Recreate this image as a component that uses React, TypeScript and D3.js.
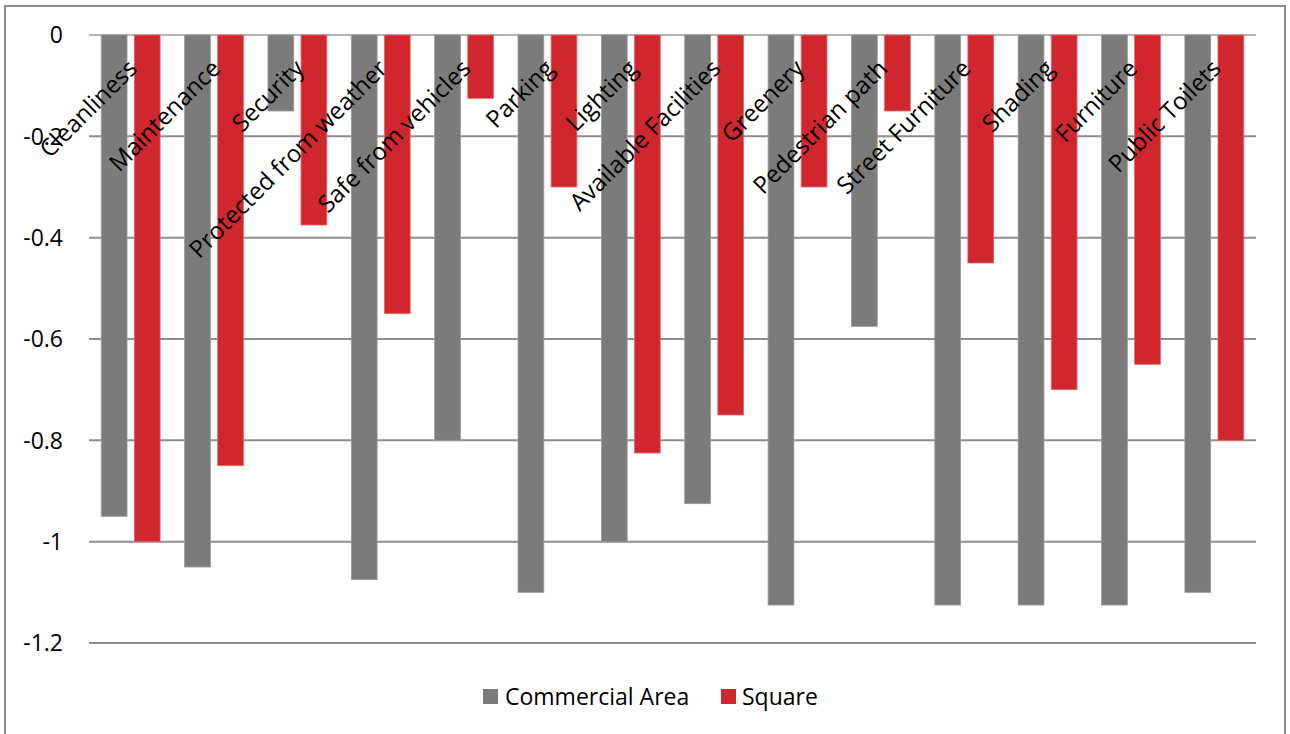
import React from "react";
import * as d3 from "d3";

const categories = [
  "Cleanliness",
  "Maintenance",
  "Security",
  "Protected from weather",
  "Safe from vehicles",
  "Parking",
  "Lighting",
  "Available Facilities",
  "Greenery",
  "Pedestrian path",
  "Street Furniture",
  "Shading",
  "Furniture",
  "Public Toilets",
];

const commercialArea = [
  -0.95, -1.05, -0.15, -1.075, -0.8, -1.1, -1.0, -0.925, -1.125, -0.575, -1.125, -1.125, -1.125, -1.1,
];

const square = [
  -1.0, -0.85, -0.375, -0.55, -0.125, -0.3, -0.825, -0.75, -0.3, -0.15, -0.45, -0.7, -0.65, -0.8,
];

const seriesNames = ["Commercial Area", "Square"];
const seriesColors = ["#7b7b7b", "#d0262d"];
const yTicks = [0, -0.2, -0.4, -0.6, -0.8, -1, -1.2];

const W = 1290;
const H = 734;
const plot = { left: 89, right: 1256, top: 35, bottom: 643 };
const FONT = "'Open Sans', 'DejaVu Sans', sans-serif";

export default function App() {
  const x = d3
    .scaleBand<string>()
    .domain(categories)
    .range([plot.left, plot.right])
    .paddingInner(0)
    .paddingOuter(0);

  const inner = d3
    .scaleBand<number>()
    .domain([0, 1])
    .range([0, x.bandwidth()])
    .paddingInner(0.22)
    .paddingOuter(0.37);

  const y = d3.scaleLinear().domain([-1.2, 0]).range([plot.bottom, plot.top]);

  const series = [commercialArea, square];

  return (
    <svg
      width={W}
      height={H}
      style={{ position: "absolute", left: 0, top: 0, background: "#fff" }}
      fontFamily={FONT}
    >
      <rect x={0} y={0} width={W} height={H} fill="#fff" />
      {/* chart frame */}
      <rect x={5} y={6} width={1280} height={740} fill="none" stroke="#8c8c8c" strokeWidth={2} />

      {/* gridlines */}
      {yTicks.map((t) => (
        <line
          key={t}
          x1={plot.left}
          x2={plot.right}
          y1={y(t)}
          y2={y(t)}
          stroke={t === 0 ? "#b4b4b4" : "#8e8e8e"}
          strokeWidth={2}
        />
      ))}

      {/* y tick labels */}
      {yTicks.map((t) => (
        <text
          key={"l" + t}
          x={63}
          y={y(t)}
          dy="0.36em"
          textAnchor="end"
          fontSize={23}
          fill="#000"
        >
          {d3.format("")(t).replace("−", "-")}
        </text>
      ))}

      {/* bars */}
      {series.map((vals, si) =>
        vals.map((v, i) => {
          const x0 = (x(categories[i]) ?? 0) + (inner(si) ?? 0);
          const y0 = y(0);
          const y1 = y(v);
          return (
            <rect
              key={si + "-" + i}
              x={x0}
              y={Math.min(y0, y1)}
              width={inner.bandwidth()}
              height={Math.abs(y1 - y0)}
              fill={seriesColors[si]}
              stroke={si === 0 ? "#9a9a9a" : "#e06a6f"}
              strokeWidth={0.8}
            />
          );
        })
      )}

      {/* category labels */}
      {categories.map((c) => {
        const cx = (x(c) ?? 0) + x.bandwidth() / 2 + 8;
        const cy = 70;
        return (
          <text
            key={"c" + c}
            x={cx}
            y={cy}
            textAnchor="end"
            fontSize={24}
            fill="#000"
            transform={`rotate(-45 ${cx} ${cy})`}
          >
            {c}
          </text>
        );
      })}

      {/* legend */}
      <g>
        <rect x={483} y={689} width={15} height={15} fill={seriesColors[0]} />
        <text x={505} y={697} dy="0.36em" fontSize={23} fill="#000">
          {seriesNames[0]}
        </text>
        <rect x={721} y={689} width={15} height={15} fill={seriesColors[1]} />
        <text x={742} y={697} dy="0.36em" fontSize={23} fill="#000">
          {seriesNames[1]}
        </text>
      </g>
    </svg>
  );
}
